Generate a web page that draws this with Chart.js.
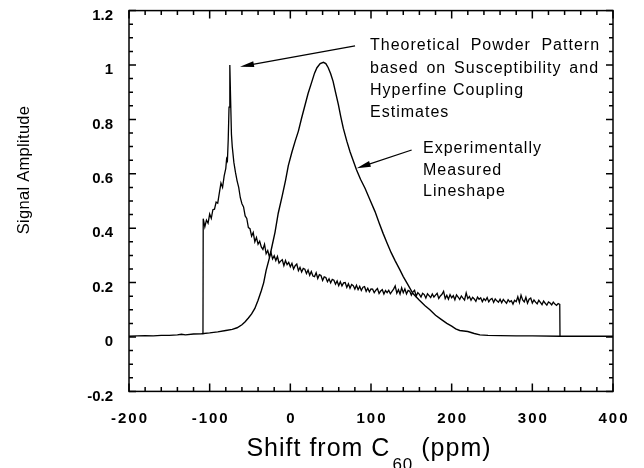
<!DOCTYPE html>
<html><head><meta charset="utf-8">
<style>html,body{margin:0;padding:0;background:#fff;}canvas{display:block;}</style>
<script src="https://cdn.jsdelivr.net/npm/chart.js@4/dist/chart.umd.min.js"></script>
</head><body>
<canvas id="c" width="644" height="468"></canvas>
<script>
// ---------------- data ----------------
const xTickValues = [-200, -100, 0, 100, 200, 300, 400];
const xTickLabels = ['-200', '-100', '0', '100', '200', '300', '400'];
const yTickValues = [-0.2, 0, 0.2, 0.4, 0.6, 0.8, 1, 1.2];
const yTickLabels = ['-0.2', '0', '0.2', '0.4', '0.6', '0.8', '1', '1.2'];

// Experimentally measured lineshape (smooth curve)
const expShift = [-200,-190,-180,-170,-160,-150,-140,-135,-130,-120,
  -110,-100,-90,-80,-72,-66,-60,-56,-52,-48,
  -44,-40,-36,-33,-30,-26,-23,-19,-15,-10,
  -6,-2.5,2,6,10,14,18,22,26.5,30,
  33,37,41,44,47,50,53,56,59.5,62.5,
  65.7,70,74,78,82,87,92.6,98.8,105,110,
  115,120,125,130,136,140,145,152,160,167,
  173,180,187,194,200,205,210,215,220,228,
  235,245,260,280,300,334,360,400];
const expAmp = [0.003,0.004,0.005,0.004,0.006,0.006,0.008,0.010,0.008,0.011,
  0.012,0.015,0.019,0.024,0.028,0.034,0.045,0.056,0.07,0.085,
  0.105,0.135,0.17,0.2,0.245,0.29,0.33,0.385,0.455,0.52,
  0.575,0.63,0.68,0.72,0.757,0.805,0.85,0.895,0.937,0.97,
  0.99,1.005,1.01,1.005,0.99,0.968,0.94,0.9,0.855,0.81,
  0.767,0.72,0.681,0.648,0.615,0.58,0.547,0.504,0.461,0.42,
  0.381,0.345,0.31,0.28,0.246,0.222,0.196,0.16,0.135,0.115,
  0.1,0.08,0.065,0.05,0.04,0.03,0.024,0.022,0.02,0.013,
  0.008,0.006,0.005,0.004,0.004,0.003,0.003,0.003];

// Theoretical powder pattern (noisy trace)
const theoShift = [-108.3,-108,-106,-104,-102,-100,-98,-96,-94,-92,
  -90,-88,-86,-84,-82,-80,-79,-78,-77,-76,
  -75,-74,-73,-72,-70,-68,-66,-64,-62,-60,
  -58,-56,-54,-52,-50,-48,-46,-44,-42,-40,
  -38,-36,-34,-32,-30,-28,-26,-24,-22,-20,
  -18,-16,-14,-12,-10,-8,-6,-4,-2,0,
  2,4,6,8,10,12,14,16,18,20,
  22,24,26,28,30,32,34,36,38,40,
  42,44,46,48,50,52,54,56,58,60,
  62,64,66,68,70,72,74,76,78,80,
  82,84,86,88,90,92,94,96,98,100,
  102,104,106,108,110,112,114,116,118,120,
  122,124,126,128,130,132,134,136,138,140,
  142,144,146,148,150,152,154,156,158,160,
  162,164,166,168,170,172,174,176,178,180,
  182,184,186,188,190,192,194,196,198,200,
  202,204,206,208,210,212,214,216,218,220,
  222,224,226,228,230,232,234,236,238,240,
  242,244,246,248,250,252,254,256,258,260,
  262,264,266,268,270,272,274,276,278,280,
  282,284,286,288,290,292,294,296,298,300,
  302,304,306,308,310,312,314,316,318,320,
  322,324,326,328,330,332,334,334.3];
const theoAmp = [0.010,0.435,0.405,0.43,0.418,0.452,0.436,0.468,0.47,0.496,
  0.492,0.53,0.566,0.55,0.592,0.62,0.655,0.648,0.725,0.845,
  1.0,0.87,0.745,0.70,0.642,0.605,0.574,0.55,0.512,0.49,
  0.478,0.445,0.436,0.402,0.398,0.371,0.384,0.35,0.366,0.341,
  0.352,0.331,0.322,0.341,0.306,0.318,0.295,0.311,0.287,0.299,
  0.281,0.296,0.272,0.279,0.284,0.262,0.281,0.266,0.274,0.258,
  0.271,0.25,0.262,0.268,0.244,0.256,0.239,0.252,0.249,0.233,
  0.246,0.227,0.241,0.224,0.222,0.236,0.215,0.229,0.226,0.208,
  0.221,0.219,0.203,0.214,0.199,0.212,0.209,0.194,0.206,0.189,
  0.203,0.188,0.199,0.2,0.182,0.196,0.179,0.193,0.189,0.176,
  0.19,0.174,0.186,0.171,0.183,0.185,0.168,0.179,0.166,0.177,
  0.176,0.163,0.172,0.178,0.16,0.169,0.174,0.158,0.171,0.163,
  0.172,0.159,0.168,0.176,0.188,0.161,0.174,0.158,0.181,0.163,
  0.177,0.158,0.171,0.168,0.154,0.166,0.172,0.15,0.163,0.157,
  0.147,0.161,0.156,0.143,0.159,0.152,0.145,0.158,0.147,0.154,
  0.161,0.142,0.151,0.157,0.168,0.141,0.153,0.139,0.156,0.144,
  0.152,0.137,0.155,0.147,0.138,0.151,0.143,0.136,0.162,0.141,
  0.149,0.135,0.146,0.14,0.131,0.147,0.139,0.144,0.13,0.141,
  0.134,0.145,0.129,0.138,0.142,0.127,0.14,0.133,0.128,0.139,
  0.126,0.138,0.131,0.124,0.137,0.129,0.133,0.121,0.135,0.13,
  0.148,0.127,0.154,0.136,0.129,0.146,0.124,0.139,0.143,0.125,
  0.136,0.128,0.122,0.135,0.127,0.119,0.132,0.124,0.117,0.129,
  0.125,0.118,0.128,0.121,0.116,0.123,0.12,0.003];

// texts
const xTitleMain = 'Shift from C';
const xTitleSub = '60';
const xTitleTail = ' (ppm)';
const yTitle = 'Signal Amplitude';
const note1Lines = ['Theoretical Powder Pattern', 'based on Susceptibility and', 'Hyperfine Coupling', 'Estimates'];
const note2Lines = ['Experimentally', 'Measured', 'Lineshape'];

// annotation anchors (data units: ppm, amplitude)
const note1Anchor = {x: 98.8, y: 1.055};
const note2Anchor = {x: 164.5, y: 0.675};
const arrow1 = {from: {x: 80.2, y: 1.07}, to: {x: -62.4, y: 0.994}};
const arrow2 = {from: {x: 150.4, y: 0.6875}, to: {x: 82.3, y: 0.62}};

// ---------------- drawing ----------------
const FONT = '"Liberation Sans", Arial, Helvetica, sans-serif';
const toPts = (xs, ys) => xs.map((x, i) => ({x: x, y: ys[i]}));

function drawArrow(ctx, x1, y1, x2, y2) {
  const ang = Math.atan2(y2 - y1, x2 - x1);
  const L = 14, W = 3;
  ctx.beginPath(); ctx.moveTo(x1, y1);
  ctx.lineTo(x2 - 6 * Math.cos(ang), y2 - 6 * Math.sin(ang)); ctx.stroke();
  ctx.beginPath(); ctx.moveTo(x2, y2);
  ctx.lineTo(x2 - L * Math.cos(ang) + W * Math.sin(ang), y2 - L * Math.sin(ang) - W * Math.cos(ang));
  ctx.lineTo(x2 - L * Math.cos(ang) - W * Math.sin(ang), y2 - L * Math.sin(ang) + W * Math.cos(ang));
  ctx.closePath(); ctx.fill();
}
function drawJustified(ctx, text, x, y, width) {
  const words = text.split(' ');
  const ws = words.map(w => ctx.measureText(w).width);
  const total = ws.reduce((a, b) => a + b, 0);
  const gap = (width - total) / (words.length - 1);
  let cx = x;
  words.forEach((w, i) => { ctx.fillText(w, cx, y); cx += ws[i] + gap; });
}

const decorPlugin = {
  id: 'decor',
  afterDraw(chart) {
    const ctx = chart.ctx, a = chart.chartArea, xs = chart.scales.x, ys = chart.scales.y;
    ctx.save();
    ctx.strokeStyle = '#000'; ctx.fillStyle = '#000';
    // frame
    ctx.lineWidth = 1.5;
    ctx.strokeRect(a.left, a.top, a.right - a.left, a.bottom - a.top);
    // ticks (inward, all four sides)
    ctx.beginPath();
    const xMinor = 20, yMinor = 0.05;
    const nx = Math.round((xs.max - xs.min) / xMinor);
    for (let i = 0; i <= nx; i++) {
      const v = xs.min + i * xMinor;
      const px = xs.getPixelForValue(v);
      const L = (i % 5 === 0) ? 8 : 4.5;
      ctx.moveTo(px, a.bottom); ctx.lineTo(px, a.bottom - L);
      ctx.moveTo(px, a.top); ctx.lineTo(px, a.top + L);
    }
    const ny = Math.round((ys.max - ys.min) / yMinor);
    for (let i = 0; i <= ny; i++) {
      const v = ys.min + i * yMinor;
      const py = ys.getPixelForValue(v);
      const L = (i % 4 === 0) ? 7 : 4;
      ctx.moveTo(a.left, py); ctx.lineTo(a.left + L, py);
      ctx.moveTo(a.right, py); ctx.lineTo(a.right - L, py);
    }
    ctx.stroke();

    // x tick labels (letter-spaced)
    ctx.font = 'bold 15px ' + FONT;
    ctx.letterSpacing = '2px';
    ctx.textAlign = 'left'; ctx.textBaseline = 'alphabetic';
    xTickValues.forEach((v, i) => {
      const t = xTickLabels[i];
      const w = ctx.measureText(t).width - 2;
      ctx.fillText(t, xs.getPixelForValue(v) - w / 2, a.bottom + 32);
    });

    // x title with subscript
    ctx.letterSpacing = '1px';
    ctx.font = '25px ' + FONT;
    const wMain = ctx.measureText(xTitleMain).width;
    const wTail = ctx.measureText(xTitleTail).width;
    ctx.font = '17px ' + FONT;
    const wSub = ctx.measureText(xTitleSub).width;
    const total = wMain + 2 + wSub + wTail;
    let tx = (a.left + a.right) / 2 - 2 - total / 2;
    ctx.font = '25px ' + FONT;
    ctx.fillText(xTitleMain, tx, 456);
    tx += wMain + 2;
    ctx.font = '17px ' + FONT;
    ctx.fillText(xTitleSub, tx, 470);
    tx += wSub;
    ctx.font = '25px ' + FONT;
    ctx.fillText(xTitleTail, tx, 456);

    // y title
    ctx.letterSpacing = '0.3px';
    ctx.save();
    ctx.translate(29, 170);
    ctx.rotate(-Math.PI / 2);
    ctx.font = '16.5px ' + FONT;
    ctx.textAlign = 'center';
    ctx.fillText(yTitle, 0, 0);
    ctx.restore();

    // annotations
    ctx.font = '16px ' + FONT;
    ctx.letterSpacing = '1px';
    ctx.textAlign = 'left';
    const n1x = xs.getPixelForValue(note1Anchor.x), n1y = ys.getPixelForValue(note1Anchor.y);
    drawJustified(ctx, note1Lines[0], n1x, n1y, 230);
    drawJustified(ctx, note1Lines[1], n1x, n1y + 22.5, 229);
    ctx.fillText(note1Lines[2], n1x, n1y + 45);
    ctx.fillText(note1Lines[3], n1x, n1y + 67);
    const n2x = xs.getPixelForValue(note2Anchor.x), n2y = ys.getPixelForValue(note2Anchor.y);
    note2Lines.forEach((t, i) => ctx.fillText(t, n2x, n2y + i * 21.2));

    ctx.lineWidth = 1.3;
    [arrow1, arrow2].forEach(ar => drawArrow(ctx,
      xs.getPixelForValue(ar.from.x), ys.getPixelForValue(ar.from.y),
      xs.getPixelForValue(ar.to.x), ys.getPixelForValue(ar.to.y)));
    ctx.restore();
  }
};

new Chart(document.getElementById('c'), {
  type: 'line',
  data: {
    datasets: [
      {label: 'Experimentally Measured Lineshape', data: toPts(expShift, expAmp),
       borderColor: '#000', borderWidth: 1.4, pointRadius: 0, tension: 0, fill: false},
      {label: 'Theoretical Powder Pattern', data: toPts(theoShift, theoAmp),
       borderColor: '#000', borderWidth: 1.3, pointRadius: 0, tension: 0, fill: false}
    ]
  },
  options: {
    responsive: false, animation: false, devicePixelRatio: 1,
    layout: {padding: {top: 10.6, right: 31, left: 0, bottom: 0}},
    plugins: {legend: {display: false}, tooltip: {enabled: false}},
    scales: {
      x: {
        type: 'linear', min: -200, max: 400,
        grid: {display: false, drawTicks: false}, border: {display: false},
        ticks: {display: false},
        afterBuildTicks(s) { s.ticks = xTickValues.map(v => ({value: v})); },
        afterFit(s) { s.height = 76.6; s.paddingLeft = 0; s.paddingRight = 0; }
      },
      y: {
        type: 'linear', min: -0.2, max: 1.2,
        grid: {display: false, drawTicks: false}, border: {display: false},
        ticks: {
          color: '#000', padding: 16, labelOffset: 5, autoSkip: false,
          font: {family: FONT, size: 15, weight: 'bold'},
          callback: (v, i) => yTickLabels[i]
        },
        afterBuildTicks(s) { s.ticks = yTickValues.map(v => ({value: v})); },
        afterFit(s) { s.width = 129; s.paddingTop = 0; s.paddingBottom = 0; }
      }
    }
  },
  plugins: [decorPlugin]
});
</script>
</body></html>
